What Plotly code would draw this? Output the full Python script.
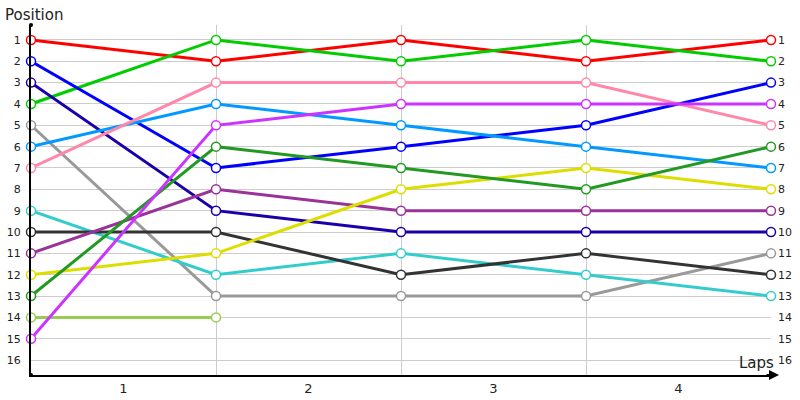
import plotly.graph_objects as go

laps = [0, 1, 2, 3, 4]
lap_labels = ["1", "2", "3", "4"]
lap_label_pos = [0.5, 1.5, 2.5, 3.5]
positions = list(range(1, 17))

series = {
    "red": [1, 2, 1, 2, 1],
    "green": [4, 1, 2, 1, 2],
    "blue": [2, 7, 6, 5, 3],
    "indigo": [3, 9, 10, 10, 10],
    "gray": [5, 13, 13, 13, 11],
    "skyblue": [6, 4, 5, 6, 7],
    "pink": [7, 3, 3, 3, 5],
    "cyan": [9, 12, 11, 12, 13],
    "black": [10, 10, 12, 11, 12],
    "purple": [11, 8, 9, 9, 9],
    "yellow": [12, 11, 8, 7, 8],
    "darkgreen": [13, 6, 7, 8, 6],
    "lightgreen": [14, 14, None, None, None],
    "violet": [15, 5, 4, 4, 4],
}
colors = {
    "red": "#ff0000",
    "green": "#00cc00",
    "blue": "#0000ff",
    "indigo": "#1a00aa",
    "gray": "#999999",
    "skyblue": "#0099ff",
    "pink": "#ff88aa",
    "cyan": "#33cccc",
    "black": "#333333",
    "purple": "#993399",
    "yellow": "#dddd00",
    "darkgreen": "#229922",
    "lightgreen": "#99cc55",
    "violet": "#cc33ff",
}

fig = go.Figure()
for name, vals in series.items():
    fig.add_trace(go.Scatter(
        x=laps, y=vals, mode="lines+markers", name=name, cliponaxis=False,
        line=dict(color=colors[name], width=3),
        marker=dict(size=9, color="white", line=dict(color=colors[name], width=1.5)),
        showlegend=False, hoverinfo="skip",
    ))
# invisible trace on right axis
fig.add_trace(go.Scatter(x=[0], y=[1], yaxis="y2", mode="markers",
                         marker=dict(opacity=0), showlegend=False, hoverinfo="skip"))

font = "DejaVu Sans, Verdana, sans-serif"
yrange = [16.7, 0.3]
fig.update_layout(
    width=800, height=400,
    margin=dict(l=31, r=29, t=25, b=25),
    plot_bgcolor="white", paper_bgcolor="white",
    font=dict(family=font, size=11, color="#222"),
    xaxis=dict(
        range=[0, 4], showgrid=False, zeroline=False, automargin=False,
        tickmode="array", tickvals=lap_label_pos, ticktext=lap_labels,
        tickfont=dict(size=13, color="#222"), ticks="",
        showline=True, linecolor="black", linewidth=2,
        minor=dict(tickmode="array", tickvals=laps, showgrid=True,
                   gridcolor="#cccccc", gridwidth=1, ticks=""),
    ),
    yaxis=dict(
        range=yrange, tickmode="array", tickvals=positions, automargin=False,
        showgrid=True, gridcolor="#cccccc", gridwidth=1, zeroline=False,
        showline=True, linecolor="black", linewidth=2, ticks="",
        ticklabelstandoff=6,
    ),
    yaxis2=dict(
        range=yrange, tickmode="array", tickvals=positions, automargin=False,
        overlaying="y", side="right", showgrid=False, zeroline=False,
        showline=False, ticks="", ticklabelstandoff=6,
    ),
    annotations=[
        dict(text="Position", xref="paper", yref="paper", x=0, y=1,
             xshift=-28, yshift=10, xanchor="left", yanchor="middle",
             showarrow=False, font=dict(size=15, color="#222", family=font)),
        dict(text="Laps", xref="paper", yref="paper", x=1, y=0,
             xshift=5, yshift=1, xanchor="right", yanchor="bottom",
             showarrow=False, font=dict(size=15, color="#222", family=font)),
        dict(text="", xref="paper", yref="paper", x=1, y=0, xshift=8,
             ax=-14, ay=0, showarrow=True, arrowhead=2, arrowsize=1,
             arrowwidth=2, arrowcolor="black", standoff=0),
    ],
    shapes=[
        dict(type="circle", xref="paper", yref="paper", xsizemode="pixel",
             ysizemode="pixel", xanchor=0, yanchor=1, x0=-2, x1=2, y0=-2, y1=2,
             fillcolor="black", line=dict(width=0)),
        dict(type="circle", xref="paper", yref="paper", xsizemode="pixel",
             ysizemode="pixel", xanchor=0, yanchor=0, x0=-2, x1=2, y0=-2, y1=2,
             fillcolor="black", line=dict(width=0)),
    ],
)

fig.write_html("out.html", config={"displayModeBar": False},
               post_script="document.body.style.margin='0';document.body.style.padding='0';")
